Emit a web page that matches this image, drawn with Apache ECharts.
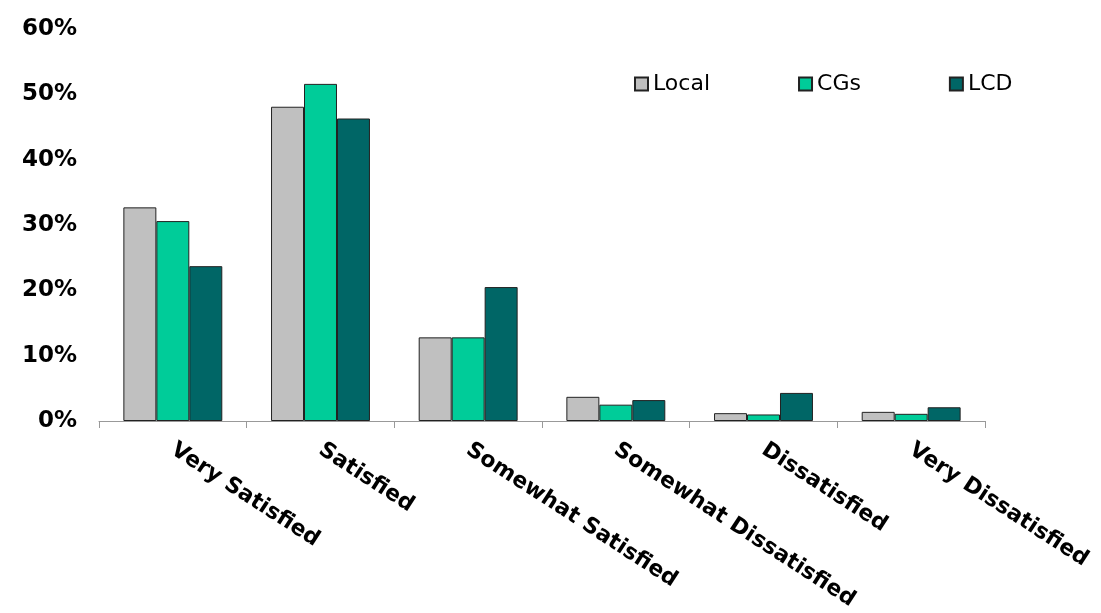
<!DOCTYPE html>
<html>
<head>
<meta charset="utf-8">
<script src="https://cdn.jsdelivr.net/npm/echarts@6/dist/echarts.min.js"></script>
<style>
html,body{margin:0;padding:0;background:#fff;}
#chart{width:1101px;height:613px;}
</style>
</head>
<body>
<div id="chart"></div>
<script>
const categories = ['Very Satisfied', 'Satisfied', 'Somewhat Satisfied', 'Somewhat Dissatisfied', 'Dissatisfied', 'Very Dissatisfied'];
const seriesNames = ['Local', 'CGs', 'LCD'];
const localValues = [32.7, 48.1, 12.8, 3.7, 1.2, 1.4];
const cgsValues = [30.6, 51.6, 12.8, 2.5, 1.0, 1.1];
const lcdValues = [23.7, 46.3, 20.5, 3.2, 4.3, 2.1];
const colors = ['#C0C0C0', '#00CC99', '#006666'];
const yTicks = [0, 10, 20, 30, 40, 50, 60];

const FONT = 'Verdana, "DejaVu Sans", sans-serif';
const chart = echarts.init(document.getElementById('chart'));
const allValues = [localValues, cgsValues, lcdValues];
chart.setOption({
  animation: false,
  legend: {
    data: seriesNames,
    left: 629,
    top: 68,
    itemWidth: 13,
    itemHeight: 13,
    itemGap: 88,
    icon: 'rect',
    textStyle: { fontFamily: FONT, fontSize: 22, color: '#000' }
  },
  grid: { left: 99, right: 116, top: 29, bottom: 192, containLabel: false },
  xAxis: {
    type: 'category',
    data: categories,
    axisLine: { lineStyle: { color: '#999', width: 1 } },
    axisTick: { show: true, length: 7, lineStyle: { color: '#999' } },
    axisLabel: {
      rotate: -33,
      interval: 0,
      margin: 27,
      fontFamily: FONT,
      fontWeight: 'bold',
      fontSize: 22,
      color: '#000'
    }
  },
  yAxis: {
    type: 'value',
    min: yTicks[0],
    max: yTicks[yTicks.length - 1],
    interval: 10,
    axisLine: { show: false },
    axisTick: { show: false },
    splitLine: { show: false },
    axisLabel: {
      formatter: '{value}%',
      margin: 22,
      fontFamily: FONT,
      fontWeight: 'bold',
      fontSize: 23,
      color: '#000'
    }
  },
  series: seriesNames.map((name, i) => ({
    name: name,
    type: 'bar',
    data: allValues[i],
    barGap: '0%',
    barCategoryGap: '33%',
    itemStyle: { color: colors[i], borderColor: '#222', borderWidth: 1 }
  }))
});
</script>
</body>
</html>
